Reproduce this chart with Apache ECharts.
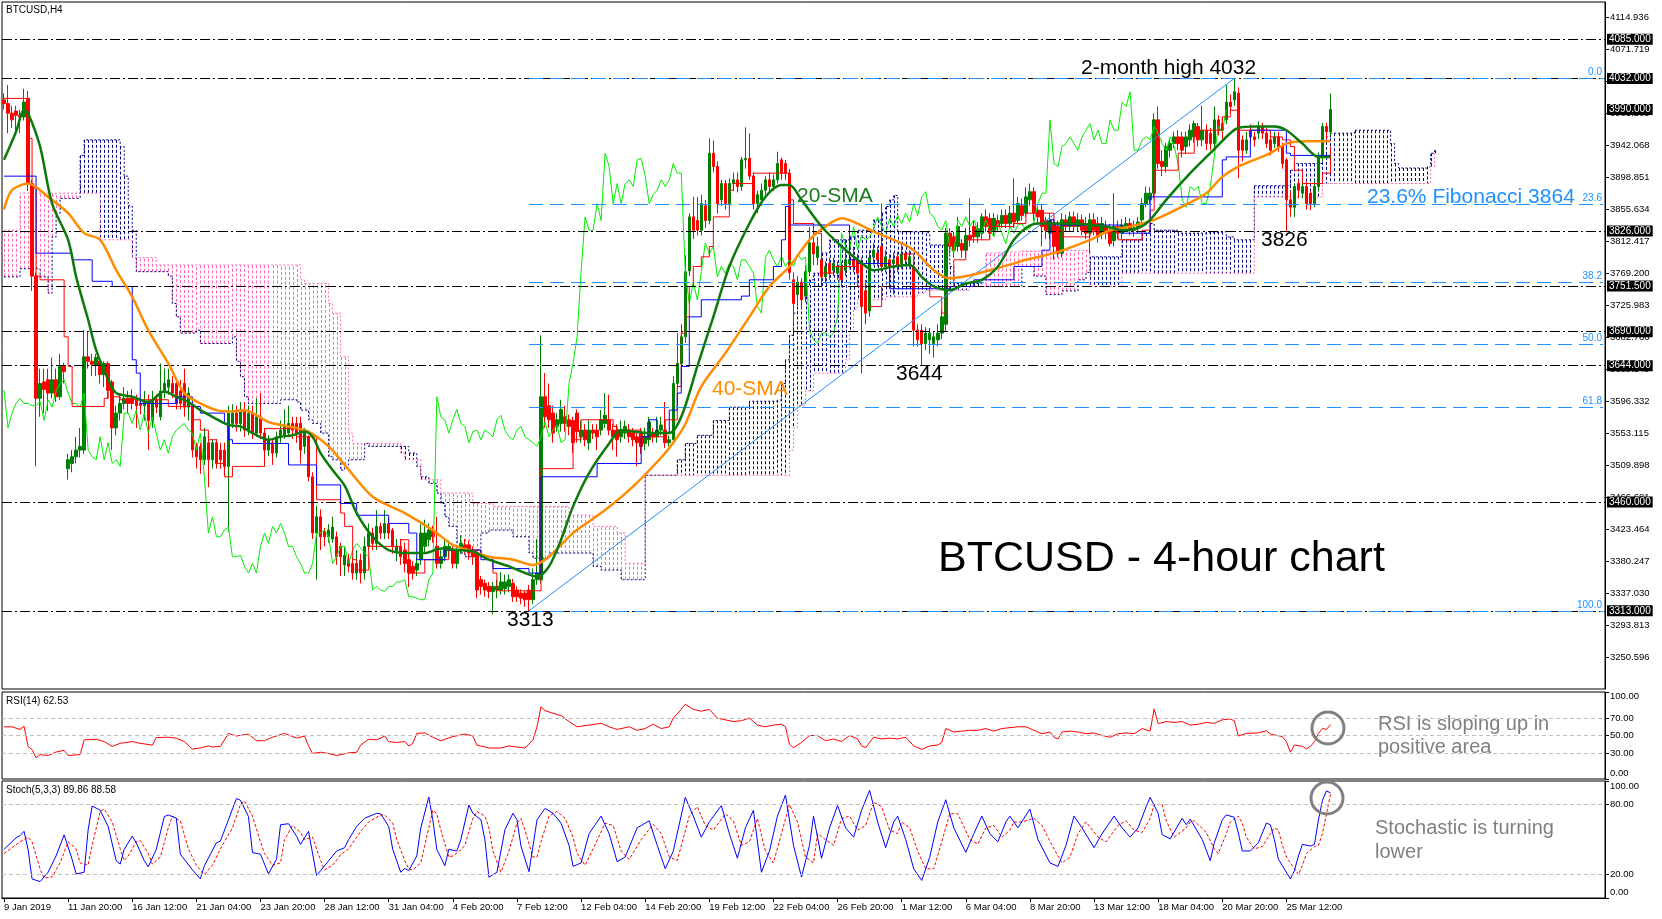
<!DOCTYPE html>
<html><head><meta charset="utf-8">
<script src="https://cdn.jsdelivr.net/npm/echarts@6/dist/echarts.min.js"></script>
<style>html,body{margin:0;padding:0;background:#fff}#c{width:1662px;height:919px}</style>
</head><body><div id="c"></div>
<script>
const tickLabels = ['9 Jan 2019','11 Jan 20:00','16 Jan 12:00','21 Jan 04:00','23 Jan 20:00','28 Jan 12:00','31 Jan 04:00','4 Feb 20:00','7 Feb 12:00','12 Feb 04:00','14 Feb 20:00','19 Feb 12:00','22 Feb 04:00','26 Feb 20:00','1 Mar 12:00','6 Mar 04:00','8 Mar 20:00','13 Mar 12:00','18 Mar 04:00','20 Mar 20:00','25 Mar 12:00'];

// [open, high, low, close] per 4-hour bar
const ohlc = [
[4003,4012,3990,3998],[3998,4023,3958,3985],[3985,3995,3965,3976],[3988,3995,3960,3982],[3982,3990,3958,3980],
[3980,4018,3975,4000],[4005,4015,3880,3890],[3890,3895,3745,3765],[3765,3770,3508,3600],[3600,3640,3575,3620],
[3622,3640,3580,3612],[3625,3640,3583,3607],[3607,3655,3600,3625],[3625,3640,3595,3602],[3602,3660,3598,3643],
[3643,3648,3620,3636],[3505,3525,3490,3517],[3512,3530,3500,3521],[3521,3548,3512,3530],[3530,3560,3520,3535],
[3530,3692,3525,3656],[3656,3690,3640,3650],[3650,3660,3630,3646],[3645,3660,3630,3655],[3650,3655,3620,3632],
[3632,3650,3615,3647],[3647,3650,3600,3611],[3622,3625,3530,3560],[3560,3590,3550,3580],[3580,3605,3570,3593],
[3593,3615,3585,3600],[3600,3610,3580,3593],[3600,3612,3585,3593],[3598,3605,3560,3590],[3593,3600,3578,3590],
[3590,3610,3570,3596],[3596,3605,3530,3570],[3570,3610,3560,3598],[3598,3605,3580,3588],[3575,3647,3570,3610],
[3610,3640,3600,3620],[3615,3640,3605,3625],[3620,3630,3600,3607],[3620,3625,3585,3593],[3610,3625,3585,3593],
[3620,3640,3575,3588],[3588,3615,3570,3607],[3590,3595,3520,3530],[3535,3540,3505,3521],[3535,3540,3498,3517],
[3517,3560,3510,3548],[3540,3550,3480,3517],[3517,3545,3505,3540],[3540,3545,3505,3512],[3530,3540,3505,3517],
[3530,3540,3495,3508],[3508,3590,3420,3580],[3566,3592,3560,3580],[3580,3590,3555,3566],[3566,3595,3555,3584],
[3584,3595,3548,3557],[3557,3590,3550,3580],[3580,3590,3545,3553],[3553,3600,3548,3575],[3575,3607,3545,3553],
[3553,3560,3516,3530],[3530,3550,3522,3544],[3540,3545,3510,3526],[3526,3555,3520,3548],[3548,3570,3540,3557],
[3550,3585,3545,3562],[3553,3590,3548,3566],[3566,3575,3545,3557],[3566,3575,3540,3553],[3566,3575,3512,3530],
[3535,3560,3525,3553],[3548,3550,3488,3494],[3494,3500,3410,3418],[3418,3455,3355,3440],[3440,3450,3395,3413],
[3420,3425,3400,3413],[3413,3430,3405,3422],[3410,3440,3405,3426],[3413,3420,3375,3386],[3400,3405,3360,3386],
[3375,3400,3360,3388],[3382,3390,3365,3373],[3377,3385,3355,3364],[3364,3395,3355,3377],[3381,3390,3350,3364],
[3364,3413,3355,3400],[3400,3431,3395,3418],[3418,3425,3395,3404],[3404,3449,3395,3427],[3427,3432,3410,3418],
[3418,3449,3410,3431],[3431,3440,3410,3418],[3422,3425,3390,3400],[3391,3410,3380,3400],[3400,3410,3375,3386],
[3395,3405,3365,3377],[3382,3390,3345,3364],[3373,3380,3355,3364],[3368,3385,3360,3377],[3382,3430,3375,3418],
[3400,3436,3392,3418],[3409,3431,3400,3422],[3420,3428,3405,3413],[3400,3440,3370,3377],[3377,3395,3370,3386],
[3386,3410,3380,3400],[3395,3408,3385,3400],[3395,3400,3370,3377],[3377,3402,3370,3395],[3395,3415,3390,3404],
[3402,3410,3390,3398],[3402,3408,3382,3391],[3395,3400,3375,3386],[3391,3395,3330,3341],[3355,3360,3335,3346],
[3350,3355,3332,3341],[3346,3352,3330,3339],[3339,3352,3308,3346],[3341,3355,3330,3346],[3341,3365,3335,3352],
[3343,3362,3335,3352],[3346,3362,3338,3355],[3350,3356,3325,3332],[3341,3346,3325,3332],[3337,3342,3322,3330],
[3337,3340,3318,3328],[3341,3348,3313,3328],[3328,3370,3322,3355],[3355,3410,3348,3364],[3355,3685,3350,3602],
[3602,3634,3560,3575],[3590,3620,3560,3571],[3580,3590,3540,3553],[3562,3580,3555,3571],[3566,3598,3555,3585],
[3575,3590,3555,3566],[3571,3578,3550,3562],[3570,3575,3526,3540],[3580,3585,3540,3555],[3548,3570,3540,3557],
[3557,3565,3535,3544],[3540,3570,3530,3557],[3557,3565,3545,3553],[3557,3565,3530,3548],[3557,3584,3550,3571],
[3566,3607,3560,3577],[3571,3605,3550,3557],[3557,3565,3530,3548],[3557,3565,3521,3544],[3548,3570,3540,3557],
[3553,3570,3545,3562],[3557,3565,3540,3548],[3553,3560,3535,3544],[3548,3555,3508,3540],[3553,3560,3525,3535],
[3539,3560,3530,3548],[3544,3575,3535,3568],[3553,3560,3540,3548],[3548,3575,3540,3557],[3557,3575,3550,3564],
[3557,3595,3533,3540],[3540,3550,3535,3544],[3544,3630,3540,3620],[3620,3688,3612,3647],[3647,3700,3640,3683],
[3683,3793,3675,3771],[3772,3850,3765,3845],[3845,3872,3815,3827],[3840,3872,3820,3827],[3827,3875,3820,3863],
[3860,3868,3830,3840],[3840,3951,3835,3931],[3931,3948,3905,3913],[3913,3920,3850,3863],[3868,3895,3860,3890],
[3890,3895,3855,3863],[3863,3897,3855,3890],[3890,3905,3880,3895],[3895,3905,3878,3886],[3886,3926,3880,3922],
[3922,3966,3910,3924],[3924,3958,3895,3900],[3900,3905,3855,3863],[3863,3880,3850,3875],[3868,3890,3860,3881],
[3881,3900,3875,3895],[3895,3905,3878,3886],[3886,3902,3880,3895],[3895,3933,3890,3917],[3922,3925,3895,3904],
[3917,3922,3895,3904],[3904,3910,3760,3770],[3760,3770,3700,3728],[3740,3765,3725,3757],[3757,3762,3720,3733],
[3738,3780,3730,3771],[3771,3831,3765,3810],[3810,3835,3780,3795],[3790,3818,3780,3805],[3787,3795,3750,3764],
[3764,3785,3755,3778],[3782,3790,3760,3769],[3773,3790,3765,3782],[3769,3785,3760,3778],[3778,3785,3750,3760],
[3773,3814,3765,3787],[3782,3800,3775,3787],[3787,3805,3770,3778],[3787,3795,3760,3769],[3782,3790,3634,3724],
[3745,3760,3700,3715],[3718,3800,3710,3790],[3791,3810,3780,3800],[3796,3805,3778,3787],[3805,3863,3770,3778],
[3778,3800,3770,3791],[3787,3795,3765,3778],[3782,3797,3740,3787],[3791,3798,3770,3778],[3782,3810,3775,3795],
[3795,3800,3778,3787],[3782,3800,3775,3791],[3778,3785,3670,3692],[3692,3700,3670,3679],[3692,3700,3645,3674],
[3674,3696,3665,3688],[3679,3695,3660,3688],[3674,3690,3655,3683],[3679,3700,3670,3688],[3688,3720,3680,3710],
[3700,3830,3690,3823],[3823,3830,3795,3805],[3818,3825,3790,3800],[3805,3845,3798,3832],[3809,3815,3790,3800],
[3800,3830,3790,3820],[3820,3870,3805,3814],[3832,3840,3810,3818],[3818,3838,3810,3829],[3823,3850,3815,3845],
[3845,3855,3825,3832],[3843,3850,3815,3823],[3827,3850,3820,3843],[3840,3848,3825,3832],[3836,3855,3830,3847],
[3847,3855,3830,3836],[3836,3860,3830,3850],[3850,3897,3830,3838],[3840,3872,3835,3863],[3860,3870,3840,3847],
[3850,3885,3845,3872],[3868,3890,3860,3879],[3879,3885,3840,3850],[3854,3860,3835,3845],[3854,3862,3805,3832],
[3840,3845,3815,3827],[3823,3850,3815,3840],[3836,3843,3787,3805],[3832,3840,3790,3796],[3796,3850,3790,3841],
[3841,3848,3825,3832],[3832,3852,3825,3845],[3845,3852,3825,3832],[3832,3850,3825,3841],[3841,3848,3820,3827],
[3836,3845,3815,3823],[3823,3850,3795,3841],[3841,3850,3820,3827],[3836,3845,3810,3818],[3823,3845,3815,3836],
[3832,3840,3815,3823],[3827,3835,3805,3809],[3813,3877,3805,3832],[3832,3840,3815,3823],[3823,3842,3815,3834],
[3832,3845,3825,3836],[3836,3843,3820,3827],[3827,3840,3818,3830],[3830,3845,3822,3838],[3841,3870,3835,3863],
[3863,3886,3858,3877],[3868,3885,3862,3877],[3877,3985,3870,3976],[3976,3994,3910,3917],[3920,3935,3900,3913],
[3913,3945,3905,3940],[3935,3950,3925,3944],[3944,3960,3938,3953],[3953,3962,3935,3944],[3953,3960,3925,3935],
[3940,3960,3930,3953],[3949,3970,3940,3962],[3953,3975,3945,3971],[3967,3972,3940,3949],[3949,3995,3940,3962],
[3962,3970,3935,3944],[3958,3965,3935,3944],[3944,3994,3938,3976],[3976,3982,3955,3962],[3971,3980,3950,3962],
[3976,4023,3970,4000],[4000,4010,3985,3994],[4003,4032,3995,4014],[4012,4020,3897,3935],[3949,3955,3920,3935],
[3935,3960,3930,3949],[3962,3970,3945,3953],[3953,3960,3940,3949],[3958,3974,3950,3967],[3967,3972,3950,3958],
[3958,3965,3938,3944],[3949,3955,3928,3935],[3944,3960,3938,3953],[3953,3960,3933,3940],[3940,3945,3910,3917],
[3922,3925,3826,3868],[3868,3880,3845,3858],[3858,3890,3845,3886],[3890,3895,3870,3881],[3877,3892,3870,3886],
[3886,3892,3855,3863],[3877,3880,3854,3863],[3863,3895,3858,3886],[3886,3932,3880,3926],[3926,3972,3920,3967],
[3967,3972,3950,3960],[3960,4012,3955,3990]
];

// moving averages: [bar, value]
const sma20 = [[0,3922],[3,3960],[5,3989],[6,3985],[9,3940],[12,3863],[16,3814],[18,3764],[21,3706],[23,3665],[26,3625],[28,3607],[32,3602],[36,3595],[40,3609],[43,3602],[46,3595],[49,3584],[52,3575],[56,3564],[59,3562],[62,3553],[66,3544],[69,3548],[72,3550],[75,3555],[77,3548],[79,3526],[82,3503],[85,3482],[88,3445],[92,3413],[96,3395],[101,3391],[105,3391],[109,3397],[113,3395],[117,3393],[121,3382],[126,3373],[130,3364],[133,3359],[136,3373],[139,3409],[142,3454],[146,3499],[151,3539],[154,3557],[157,3555],[161,3553],[166,3553],[169,3575],[173,3643],[177,3710],[181,3778],[186,3836],[190,3872],[194,3888],[196,3888],[199,3868],[204,3832],[209,3805],[213,3787],[217,3773],[222,3778],[226,3780],[229,3764],[232,3751],[236,3746],[240,3755],[244,3760],[248,3778],[252,3814],[255,3830],[258,3836],[262,3836],[266,3836],[271,3834],[275,3832],[279,3827],[283,3830],[286,3841],[290,3868],[296,3904],[301,3931],[306,3958],[308,3965],[312,3967],[317,3967],[320,3962],[324,3944],[328,3926],[331,3926]];
const sma40 = [[0,3855],[2,3881],[6,3890],[11,3872],[16,3850],[20,3823],[24,3814],[28,3773],[32,3737],[36,3692],[41,3647],[45,3607],[49,3593],[53,3584],[57,3582],[60,3584],[66,3568],[71,3562],[76,3555],[81,3535],[85,3510],[92,3467],[100,3445],[107,3422],[112,3402],[117,3393],[121,3386],[127,3382],[132,3375],[136,3386],[142,3418],[150,3449],[157,3481],[164,3520],[167,3540],[170,3565],[174,3616],[180,3661],[186,3710],[191,3751],[196,3778],[201,3814],[205,3832],[209,3843],[213,3836],[217,3825],[222,3814],[227,3800],[232,3773],[236,3762],[241,3766],[246,3773],[252,3782],[255,3787],[262,3796],[271,3814],[276,3827],[281,3832],[287,3841],[294,3859],[300,3877],[304,3899],[308,3913],[312,3922],[316,3931],[320,3944],[325,3947],[331,3947]];

// Ichimoku lines: [first bar, value held until next entry]
const tenkan = [[0,4005],[6,3951],[7,3884],[8,3765],[9,3760],[15,3683],[16,3643],[17,3589],[25,3600],[26,3611],[27,3602],[29,3598],[41,3589],[47,3571],[49,3557],[51,3544],[53,3512],[55,3494],[57,3508],[65,3559],[73,3548],[78,3463],[84,3445],[85,3427],[87,3382],[88,3368],[91,3400],[99,3409],[101,3364],[105,3382],[111,3395],[119,3386],[122,3364],[123,3340],[134,3505],[142,3544],[144,3571],[152,3562],[153,3557],[159,3548],[165,3571],[168,3616],[169,3688],[170,3710],[171,3751],[172,3778],[174,3791],[176,3805],[177,3845],[181,3881],[182,3890],[187,3904],[196,3868],[197,3836],[202,3823],[204,3769],[207,3778],[213,3751],[216,3724],[219,3751],[221,3778],[224,3795],[227,3751],[231,3737],[234,3715],[235,3751],[237,3787],[240,3814],[246,3832],[252,3836],[255,3850],[262,3827],[264,3818],[271,3825],[278,3814],[284,3827],[286,3854],[287,3908],[293,3931],[297,3962],[304,3980],[306,3989],[308,3962],[316,3953],[319,3949],[321,3940],[322,3908],[324,3890],[329,3904],[331,3940]];
const kijun = [[0,3900],[8,3796],[17,3787],[22,3758],[27,3751],[32,3652],[33,3634],[34,3593],[43,3602],[47,3589],[49,3580],[55,3566],[56,3544],[57,3539],[71,3510],[78,3483],[84,3458],[88,3442],[96,3431],[101,3418],[103,3382],[110,3395],[119,3382],[122,3370],[131,3364],[134,3494],[148,3512],[159,3548],[161,3571],[163,3553],[166,3584],[168,3607],[169,3643],[171,3710],[174,3733],[184,3738],[186,3760],[192,3778],[194,3814],[195,3859],[196,3834],[211,3787],[213,3782],[221,3748],[236,3751],[242,3760],[252,3778],[259,3800],[261,3841],[262,3834],[279,3823],[286,3872],[304,3922],[305,3926],[311,3962],[320,3931],[321,3928],[331,3928]];
const spanA = [[0,3764],[4,3775],[9,3764],[11,3742],[12,3818],[13,3850],[14,3870],[19,3928],[20,3949],[29,3940],[30,3900],[31,3860],[32,3827],[33,3771],[41,3765],[42,3728],[43,3710],[44,3688],[48,3692],[49,3674],[57,3683],[58,3650],[59,3629],[60,3602],[61,3593],[69,3598],[73,3595],[74,3584],[76,3571],[77,3566],[79,3553],[81,3521],[82,3517],[84,3503],[85,3510],[86,3517],[90,3539],[91,3535],[101,3526],[103,3508],[104,3494],[106,3485],[108,3472],[109,3458],[110,3440],[111,3427],[113,3391],[115,3386],[119,3418],[121,3422],[127,3413],[131,3391],[132,3384],[136,3391],[147,3373],[149,3368],[154,3355],[160,3496],[168,3517],[170,3539],[173,3550],[177,3570],[181,3588],[186,3596],[193,3598],[194,3620],[195,3652],[196,3685],[197,3715],[198,3751],[201,3760],[202,3769],[204,3796],[206,3814],[211,3818],[213,3827],[217,3841],[219,3850],[220,3859],[221,3868],[222,3874],[223,3825],[230,3823],[231,3807],[236,3778],[237,3755],[244,3751],[254,3778],[257,3765],[260,3740],[264,3745],[268,3760],[270,3770],[271,3791],[279,3814],[284,3823],[286,3836],[287,3827],[293,3823],[300,3825],[305,3818],[307,3814],[312,3887],[321,3908],[322,3917],[329,3953],[331,3958],[337,3962],[346,3944],[347,3917],[348,3911],[355,3913],[356,3931],[357,3935]];
const spanB = [[0,3827],[4,3877],[24,3814],[32,3790],[38,3780],[74,3760],[75,3755],[81,3728],[82,3715],[84,3656],[86,3553],[87,3539],[99,3526],[100,3517],[104,3490],[109,3472],[117,3458],[122,3454],[141,3442],[147,3427],[153,3418],[155,3377],[160,3496],[196,3530],[197,3560],[198,3590],[200,3610],[202,3634],[210,3652],[211,3690],[212,3720],[213,3733],[220,3737],[228,3742],[230,3746],[241,3751],[245,3796],[246,3798],[254,3800],[271,3751],[279,3769],[312,3872],[329,3890],[356,3913],[357,3931]];

// oscillators: [bar, value]
const rsi = [[0,60],[2,60],[4,57],[5,60.6],[6,37.5],[7,33.7],[8,24.4],[9,28],[11,27],[13,31],[15,33],[16,27],[19,28],[20,45],[23,45.7],[25,43],[27,37.5],[29,41],[32,43],[34,41],[37,39],[38,47.6],[41,48],[43,47],[45,43],[47,34.5],[49,35.6],[51,38],[52,36.7],[54,37.5],[56,52.4],[58,49.4],[61,51.7],[63,44],[65,44],[67,48],[70,52.4],[73,47],[75,49.4],[76,38],[77,29.3],[79,30.8],[81,29.3],[83,27],[86,30],[88,30.8],[89,39],[91,45.7],[93,45],[95,49.4],[96,43],[98,42],[100,43],[101,38],[102,41],[103,52.4],[105,53],[107,48],[109,44],[112,48.7],[115,51.7],[117,49.4],[118,39],[121,35.6],[124,35.6],[126,38],[130,35.6],[132,45],[133,60],[134,83],[135,78.6],[138,74],[139,73],[141,66],[143,60],[146,62],[149,64],[151,60],[153,57],[156,60],[158,56],[160,58],[162,63],[164,58],[166,60],[167,70],[168,75],[169,80],[170,86],[172,80],[174,78],[176,80],[178,70],[180,68],[182,66],[184,67],[186,70],[188,62],[190,60],[192,62],[194,63],[195,60],[196,40],[197,36],[199,42],[201,50],[203,50],[205,44],[207,46],[209,43],[211,50],[213,46],[214,38],[215,36],[217,48],[219,46],[221,47],[223,46],[225,48],[227,38],[229,34],[231,38],[233,39],[234,42],[235,58],[237,54],[239,55],[241,56],[243,56],[245,58],[247,55],[249,58],[251,59],[253,60],[255,60],[257,56],[259,52],[261,54],[262,48],[263,46],[264,54],[266,55],[268,54],[270,52],[272,53],[274,50],[276,48],[278,52],[280,53],[282,52],[284,58],[286,55],[287,80.5],[288,63.6],[290,66],[292,65],[294,66],[296,62],[298,63],[300,65],[302,64],[304,68],[306,69],[307,67],[308,49.4],[310,52.4],[313,53],[315,55.4],[316,51.7],[319,48.7],[320,43],[321,30.8],[322,39],[324,37.5],[325,34.5],[326,37.5],[327,43],[328,52.4],[329,58],[330,57],[331,62.53]];
const stochK = [[0,41.6],[3,51.4],[4,53.4],[5,57],[6,41.6],[7,16.3],[9,14],[11,22],[13,36],[15,54],[17,33],[18,20.6],[20,22],[21,58.4],[22,78.6],[24,75],[26,61],[28,31.8],[29,29],[30,41.6],[32,52.8],[33,47.2],[35,31.8],[36,26.7],[38,41.6],[40,69.6],[41,71],[43,68.2],[44,37.4],[47,24.2],[49,16.3],[50,27.6],[53,47.2],[54,48.6],[56,66.8],[58,85],[59,83.6],[61,69.6],[62,38.8],[64,37.4],[66,20.6],[68,33.2],[69,62.6],[71,63.5],[73,52.8],[74,45.8],[76,57],[78,19.2],[79,23.4],[81,31.8],[83,40.2],[85,43],[86,50],[88,61.2],[90,68.2],[93,72.4],[94,71.9],[96,61.2],[97,41.6],[99,22],[100,25.3],[101,23.4],[103,36],[104,59.8],[106,86.4],[107,66.8],[108,41.6],[110,27.6],[111,41.6],[113,40.2],[114,50],[116,79.4],[117,72.4],[119,66.8],[120,50],[121,17.8],[123,22],[125,58.4],[127,72.4],[128,66.8],[129,44.4],[131,22.5],[132,44.4],[133,66.8],[135,76.6],[137,72.4],[139,64],[141,45],[142,27],[144,30],[146,55],[149,70],[151,55],[153,31],[155,35],[158,60],[161,66],[163,45],[165,25],[167,40],[170,86],[172,70],[174,52],[176,65],[179,79],[181,55],[183,34],[185,60],[187,75],[189,22],[191,40],[193,70],[195,88],[197,45],[199,18],[201,45],[202,70],[204,34],[206,60],[208,79],[210,60],[212,52],[214,75],[216,92],[218,65],[220,43],[222,65],[223,70],[225,50],[227,25],[229,15],[231,35],[233,65],[235,84],[237,60],[240,39],[242,55],[244,70],[246,55],[248,48],[250,65],[251,70],[253,60],[256,76],[258,50],[261,30],[263,27],[265,45],[267,70],[269,60],[272,43],[274,55],[277,70],[279,60],[281,52],[283,60],[285,78],[286,86],[288,72.4],[289,54.2],[291,50.6],[294,68.2],[295,62.6],[296,67.4],[299,50],[301,31.8],[302,47.2],[304,66.8],[305,71],[307,69],[308,55.6],[309,40.2],[311,40.2],[313,47.2],[315,64],[316,62.6],[317,50],[318,33.2],[319,27.6],[321,16.3],[322,23.4],[323,36],[324,45.8],[326,44.4],[327,45.8],[328,66.8],[329,83.6],[330,91.5],[331,89.86]];
const stochD = [[0,38],[4,48],[6,52],[7,48],[9,25],[10,17],[12,18],[14,30],[16,48],[18,42],[19,30],[21,28],[22,45],[24,74],[25,76],[27,65],[29,42],[30,32],[31,36],[33,48],[34,49],[36,38],[37,29],[39,35],[41,60],[42,70],[44,66],[46,42],[48,28],[50,20],[52,28],[54,42],[55,48],[57,60],[59,80],[60,83],[62,70],[64,48],[65,38],[67,28],[69,30],[70,50],[72,62],[74,56],[75,50],[77,52],[79,32],[80,24],[82,28],[84,37],[86,42],[87,47],[89,57],[91,65],[94,71],[95,71],[97,64],[98,50],[100,32],[101,25],[102,24],[104,30],[105,45],[107,75],[108,72],[109,58],[111,35],[112,36],[114,41],[115,45],[117,68],[118,74],[120,70],[121,60],[122,40],[124,22],[126,40],[128,64],[129,68],[130,58],[132,35],[133,35],[134,48],[136,70],[138,74],[140,68],[142,52],[143,38],[145,28],[147,42],[150,64],[152,62],[154,40],[156,33],[159,50],[162,63],[164,55],[166,35],[168,32],[171,70],[173,78],[175,62],[177,58],[180,72],[182,66],[184,45],[186,48],[188,68],[190,40],[192,30],[194,55],[196,80],[198,65],[200,35],[202,30],[203,55],[205,50],[207,45],[209,68],[211,70],[213,58],[215,62],[217,82],[219,78],[221,58],[223,55],[224,65],[226,60],[228,40],[230,25],[232,25],[234,48],[236,72],[238,72],[241,50],[243,46],[245,60],[247,62],[249,52],[251,58],[252,65],[254,65],[257,68],[259,62],[262,42],[264,30],[266,35],[268,55],[270,65],[273,52],[275,48],[278,62],[280,66],[282,58],[284,56],[286,68],[287,80],[289,80],[290,66],[292,52],[295,60],[296,65],[297,66],[300,56],[302,42],[303,38],[305,55],[306,65],[308,70],[309,64],[310,52],[312,42],[314,44],[316,55],[317,60],[318,58],[319,45],[320,35],[322,25],[323,20],[324,28],[325,38],[327,44],[328,45],[329,55],[330,72],[331,88.58]];

const priceLevels = [4085, 4032, 3826, 3751.5, 3690, 3644, 3460, 3313];
const bidPrice = 3990;
const fibLevels = [['0.0',4032],['23.6',3862.3],['38.2',3757.3],['50.0',3672.5],['61.8',3587.7],['100.0',3313]];
const fibStart = 131, trendEnd = [307, 4032];
const lastBar = 331, cloudEnd = 357;

const N = 400;
const cats = Array.from({length: N}, (_, i) => i);
const FONT = '"Liberation Sans", Arial, sans-serif';

function holdUntil(knots, end) {
  const pts = knots.map(k => [k[0], k[1]]);
  const l = knots[knots.length - 1];
  if (l[0] < end) pts.push([end, l[1]]);
  return pts;
}
function valueAt(knots, i) {
  let v = knots[0][1];
  for (const k of knots) { if (k[0] <= i) v = k[1]; else break; }
  return v;
}
const hatch = [];
for (let i = 0; i <= cloudEnd; i++) hatch.push([i, valueAt(spanA, i), valueAt(spanB, i)]);
const candleData = ohlc.map(r => [r[0], r[3], r[2], r[1]]);
const chikou = ohlc.map((r, i) => [i - 26, r[3]]).filter(p => p[0] >= 0);

const tagLabel = (txt) => ({show: true, position: 'end', distance: 2, formatter: txt, backgroundColor: '#000', color: '#fff', padding: [1, 2, 0, 2], fontSize: 10, fontFamily: FONT, opacity: 1});

const markLineData = [];
priceLevels.forEach(v => markLineData.push({yAxis: v, lineStyle: {color: '#000', type: [10, 3, 2, 3], width: 1}, label: tagLabel(v.toFixed(3))}));
markLineData.push({yAxis: bidPrice, lineStyle: {color: 'rgba(0,0,0,0)', width: 1, type: 'solid'}, label: tagLabel(bidPrice.toFixed(3))});
fibLevels.forEach(([r, v]) => {
  const st = {lineStyle: {color: '#1E90FF', type: [14, 7], width: 1}, label: {show: true, position: 'insideEndTop', distance: 1, formatter: r, color: '#1E90FF', fontSize: 10, fontFamily: FONT}};
  markLineData.push([Object.assign({coord: [fibStart, v]}, st), Object.assign({coord: [N - 1, v]}, st)]);
});
const tl = {lineStyle: {color: '#1E90FF', type: 'solid', width: 1}, label: {show: false}};
markLineData.push([Object.assign({coord: [fibStart, 3313]}, tl), Object.assign({coord: trendEnd}, tl)]);

const lvl = (vals) => ({silent: true, symbol: ['none', 'none'], animation: false, label: {show: false}, lineStyle: {color: '#c0c0c0', type: [4, 3], width: 1}, data: vals.map(v => ({yAxis: v}))});
const isTick = i => i % 16 === 0 && i <= 320;
const axisText = {fontSize: 9.5, color: '#000', fontFamily: FONT};

const grids = [
  {left: 2, top: 2, width: 1603, height: 687},
  {left: 2, top: 692, width: 1603, height: 87},
  {left: 2, top: 781, width: 1603, height: 117}
].map(g => Object.assign(g, {show: true, borderColor: '#000', borderWidth: 1, backgroundColor: '#fff', containLabel: false}));

const lineBase = {type: 'line', showSymbol: false, symbol: 'none', animation: false, silent: true};

const option = {
  animation: false,
  backgroundColor: '#fff',
  textStyle: {fontFamily: FONT},
  grid: grids,
  xAxis: [
    {type: 'category', gridIndex: 0, data: cats, show: false, boundaryGap: true},
    {type: 'category', gridIndex: 1, data: cats, show: false, boundaryGap: true},
    {type: 'category', gridIndex: 2, data: cats, boundaryGap: true,
     axisLine: {show: true, lineStyle: {color: '#000'}},
     axisTick: {show: true, interval: (i) => isTick(i), alignWithLabel: true, length: 4, lineStyle: {color: '#000'}},
     axisLabel: Object.assign({interval: (i) => isTick(i), formatter: (v, i) => tickLabels[i / 16], align: 'left', margin: 4}, axisText),
     splitLine: {show: false}}
  ],
  yAxis: [
    {type: 'value', gridIndex: 0, position: 'right', min: 3207.379, max: 4135.19, interval: 43.217,
     axisLine: {show: true, lineStyle: {color: '#000'}},
     axisTick: {show: true, length: 4, lineStyle: {color: '#000'}},
     axisLabel: Object.assign({showMinLabel: false, showMaxLabel: false, margin: 5, formatter: v => v.toFixed(3)}, axisText),
     splitLine: {show: false}},
    {type: 'value', gridIndex: 1, position: 'right', min: 0, max: 100,
     axisLine: {show: true, lineStyle: {color: '#000'}},
     axisTick: {show: true, length: 4, customValues: [0, 30, 50, 70, 100], lineStyle: {color: '#000'}},
     axisLabel: Object.assign({customValues: [7, 30, 50, 70, 95], margin: 5, formatter: v => v === 7 ? '0.00' : (v === 95 ? '100.00' : v.toFixed(2))}, axisText),
     splitLine: {show: false}},
    {type: 'value', gridIndex: 2, position: 'right', min: 0, max: 100,
     axisLine: {show: true, lineStyle: {color: '#000'}},
     axisTick: {show: true, length: 4, customValues: [0, 20, 80, 100], lineStyle: {color: '#000'}},
     axisLabel: Object.assign({customValues: [5, 20, 80, 95], margin: 5, formatter: v => v === 5 ? '0.00' : (v === 95 ? '100.00' : v.toFixed(2))}, axisText),
     splitLine: {show: false}}
  ],
  series: [
    {type: 'custom', name: 'cloud', xAxisIndex: 0, yAxisIndex: 0, data: hatch, encode: {x: 0, y: [1, 2]}, z: 1, silent: true, animation: false,
     renderItem: (params, api) => {
       const a = api.value(1), b = api.value(2);
       const p1 = api.coord([api.value(0), a]), p2 = api.coord([api.value(0), b]);
       return {type: 'line', shape: {x1: Math.round(p1[0]) + 0.5, y1: p1[1], x2: Math.round(p2[0]) + 0.5, y2: p2[1]},
               style: {stroke: a >= b ? '#000080' : '#FF69B4', lineWidth: 1, lineDash: [3, 2]}};
     }},
    Object.assign({}, lineBase, {name: 'spanA', data: holdUntil(spanA, cloudEnd), step: 'end', z: 2, lineStyle: {color: '#000080', width: 1, type: [2, 2]}}),
    Object.assign({}, lineBase, {name: 'spanB', data: holdUntil(spanB, cloudEnd), step: 'end', z: 2, lineStyle: {color: '#FF69B4', width: 1, type: [2, 2]}}),
    {type: 'candlestick', name: 'BTCUSD', xAxisIndex: 0, yAxisIndex: 0, data: candleData, barWidth: 3, z: 3, animation: false, silent: true,
     itemStyle: {color: '#008000', color0: '#FF0000', borderColor: '#008000', borderColor0: '#FF0000', borderWidth: 1},
     markLine: {silent: true, symbol: ['none', 'none'], animation: false, data: markLineData}},
    Object.assign({}, lineBase, {name: 'chikou', data: chikou, z: 4, lineStyle: {color: '#00EE00', width: 1}}),
    Object.assign({}, lineBase, {name: 'tenkan', data: holdUntil(tenkan, lastBar), step: 'end', z: 4, lineStyle: {color: '#FF0000', width: 1}}),
    Object.assign({}, lineBase, {name: 'kijun', data: holdUntil(kijun, lastBar), step: 'end', z: 4, lineStyle: {color: '#0000FF', width: 1}}),
    Object.assign({}, lineBase, {name: '40-SMA', data: sma40, smooth: 0.3, z: 5, lineStyle: {color: '#FF8C00', width: 2.5}}),
    Object.assign({}, lineBase, {name: '20-SMA', data: sma20, smooth: 0.3, z: 5, lineStyle: {color: '#0B7A0B', width: 2.5}}),
    Object.assign({}, lineBase, {name: 'RSI', xAxisIndex: 1, yAxisIndex: 1, data: rsi, z: 3, lineStyle: {color: '#FF0000', width: 1}, markLine: lvl([30, 50, 70])}),
    Object.assign({}, lineBase, {name: 'StochK', xAxisIndex: 2, yAxisIndex: 2, data: stochK, z: 4, lineStyle: {color: '#0000FF', width: 1}, markLine: lvl([20, 80])}),
    Object.assign({}, lineBase, {name: 'StochD', xAxisIndex: 2, yAxisIndex: 2, data: stochD, z: 3, lineStyle: {color: '#FF0000', width: 1, type: [3, 2]}})
  ],
  graphic: [
    {type: 'text', x: 6, y: 10, z: 100, style: {text: 'BTCUSD,H4', font: '10px ' + FONT, fill: '#000', verticalAlign: 'middle'}},
    {type: 'text', x: 6, y: 701, z: 100, style: {text: 'RSI(14) 62.53', font: '10px ' + FONT, fill: '#000', verticalAlign: 'middle'}},
    {type: 'text', x: 6, y: 790, z: 100, style: {text: 'Stoch(5,3,3) 89.86 88.58', font: '10px ' + FONT, fill: '#000', verticalAlign: 'middle'}},
    {type: 'text', x: 1081, y: 68, z: 100, style: {text: '2-month high 4032', font: '21px ' + FONT, fill: '#000', verticalAlign: 'middle'}},
    {type: 'text', x: 797, y: 196, z: 100, style: {text: '20-SMA', font: '21px ' + FONT, fill: '#1d7b1d', verticalAlign: 'middle'}},
    {type: 'text', x: 712, y: 389, z: 100, style: {text: '40-SMA', font: '21px ' + FONT, fill: '#FF8C00', verticalAlign: 'middle'}},
    {type: 'text', x: 896, y: 374, z: 100, style: {text: '3644', font: '21px ' + FONT, fill: '#000', verticalAlign: 'middle'}},
    {type: 'text', x: 507, y: 620, z: 100, style: {text: '3313', font: '21px ' + FONT, fill: '#000', verticalAlign: 'middle'}},
    {type: 'text', x: 1261, y: 240, z: 100, style: {text: '3826', font: '21px ' + FONT, fill: '#000', verticalAlign: 'middle'}},
    {type: 'text', x: 1367, y: 197, z: 100, style: {text: '23.6% Fibonacci 3864', font: '21px ' + FONT, fill: '#1E90FF', verticalAlign: 'middle'}},
    {type: 'text', x: 938, y: 559, z: 100, style: {text: 'BTCUSD - 4-hour chart', font: '43px ' + FONT, fill: '#000', verticalAlign: 'middle'}},
    {type: 'text', x: 1378, y: 724, z: 100, style: {text: 'RSI is sloping up in', font: '20px ' + FONT, fill: '#808080', verticalAlign: 'middle'}},
    {type: 'text', x: 1378, y: 747, z: 100, style: {text: 'positive area', font: '20px ' + FONT, fill: '#808080', verticalAlign: 'middle'}},
    {type: 'text', x: 1375, y: 828, z: 100, style: {text: 'Stochastic is turning', font: '20px ' + FONT, fill: '#808080', verticalAlign: 'middle'}},
    {type: 'text', x: 1375, y: 852, z: 100, style: {text: 'lower', font: '20px ' + FONT, fill: '#808080', verticalAlign: 'middle'}},
    {type: 'circle', z: 100, shape: {cx: 1328, cy: 728, r: 16}, style: {fill: 'none', stroke: '#808080', lineWidth: 3}},
    {type: 'circle', z: 100, shape: {cx: 1327, cy: 798, r: 16}, style: {fill: 'none', stroke: '#808080', lineWidth: 3}}
  ]
};
const chart = echarts.init(document.getElementById('c'), null, {renderer: 'canvas', width: 1662, height: 919});
chart.setOption(option);
</script>
</body></html>
